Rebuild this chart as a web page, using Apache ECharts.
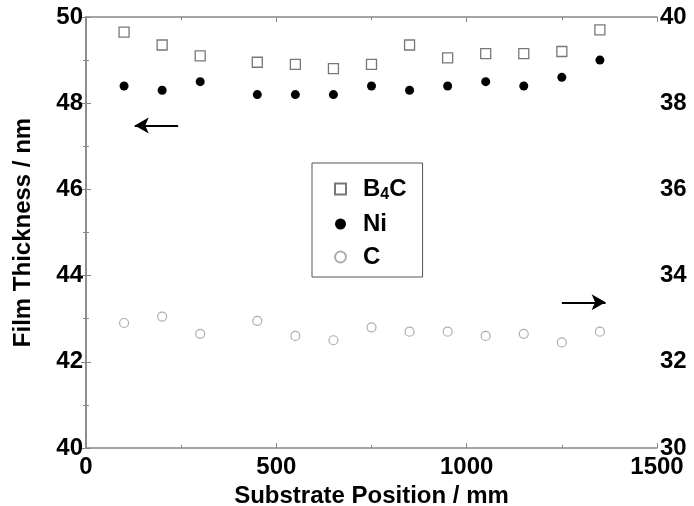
<!DOCTYPE html>
<html>
<head>
<meta charset="utf-8">
<script src="https://cdn.jsdelivr.net/npm/echarts@6/dist/echarts.min.js"></script>
<style>
  html, body { margin: 0; padding: 0; background: #fff; }
  #chart { width: 694px; height: 506px; }
</style>
</head>
<body>
<div id="chart"></div>
<script>
// substrate positions (mm)
const positions = [100, 200, 300, 450, 550, 650, 750, 850, 950, 1050, 1150, 1250, 1350];
// film thickness, left axis (nm)
const b4c = [49.65, 49.35, 49.1, 48.95, 48.9, 48.8, 48.9, 49.35, 49.05, 49.15, 49.15, 49.2, 49.7];
const ni = [48.4, 48.3, 48.5, 48.2, 48.2, 48.2, 48.4, 48.3, 48.4, 48.5, 48.4, 48.6, 49.0];
// C thickness, right axis (nm)
const carbon = [32.9, 33.05, 32.65, 32.95, 32.6, 32.5, 32.8, 32.7, 32.7, 32.6, 32.65, 32.45, 32.7];

const font = "'Liberation Sans', Arial, sans-serif";
const axisGray = "#888";

const pairs = (ys) => positions.map((x, i) => [x, ys[i]]);

const myChart = echarts.init(document.getElementById("chart"));

const labelStyle = { fontFamily: font, fontSize: 24, fontWeight: "bold", color: "#000" };

const options = {
  animation: false,
  grid: { left: 86, right: 37, top: 17, bottom: 58, outerBoundsMode: "none" },
  legend: {
    orient: "vertical",
    left: 312,
    top: 163,
    padding: [14, 16, 8, 22],
    itemGap: 9,
    itemWidth: 11,
    itemHeight: 11,
    borderColor: "#555",
    borderWidth: 1,
    data: ["B4C", "Ni", "C"],
    formatter: (name) => (name === "B4C" ? "B{sub|4}C" : name),
    textStyle: {
      fontFamily: font,
      fontSize: 24,
      fontWeight: "bold",
      color: "#000",
      padding: [0, 0, 0, 12],
      rich: {
        sub: {
          fontFamily: font,
          fontSize: 16,
          fontWeight: "bold",
          color: "#000",
          padding: [12, 0, 0, 0],
        },
      },
    },
  },
  xAxis: [
    {
      type: "value",
      min: 0,
      max: 1500,
      interval: 500,
      name: "Substrate Position / mm",
      nameLocation: "middle",
      nameGap: 29,
      nameTextStyle: labelStyle,
      axisLine: { lineStyle: { color: axisGray, width: 1.5 } },
      axisTick: { inside: true, length: 5, lineStyle: { color: axisGray } },
      minorTick: { show: true, splitNumber: 2, length: 3, lineStyle: { color: axisGray } },
      axisLabel: { ...labelStyle, margin: 7, formatter: (v) => String(v) },
      splitLine: { show: false },
    },
    {
      type: "value",
      position: "top",
      min: 0,
      max: 1500,
      interval: 500,
      axisLine: { lineStyle: { color: axisGray, width: 1.5 } },
      axisTick: { inside: true, length: 5, lineStyle: { color: axisGray } },
      minorTick: { show: true, splitNumber: 2, length: 3, lineStyle: { color: axisGray } },
      axisLabel: { show: false },
      splitLine: { show: false },
    },
  ],
  yAxis: [
    {
      type: "value",
      min: 40,
      max: 50,
      interval: 2,
      name: "Film Thickness / nm",
      nameLocation: "middle",
      nameGap: 51,
      nameTextStyle: labelStyle,
      axisLine: { show: true, lineStyle: { color: axisGray, width: 1.5 } },
      axisTick: { inside: true, length: 5, lineStyle: { color: axisGray } },
      minorTick: { show: true, splitNumber: 2, length: 3, lineStyle: { color: axisGray } },
      axisLabel: { ...labelStyle, margin: 3 },
      splitLine: { show: false },
    },
    {
      type: "value",
      position: "right",
      min: 30,
      max: 40,
      interval: 2,
      axisLine: { show: true, lineStyle: { color: axisGray, width: 1.5 } },
      axisTick: { inside: true, length: 5, lineStyle: { color: axisGray } },
      minorTick: { show: true, splitNumber: 2, length: 3, lineStyle: { color: axisGray } },
      axisLabel: { ...labelStyle, margin: 3 },
      splitLine: { show: false },
    },
  ],
  series: [
    {
      name: "B4C",
      type: "scatter",
      xAxisIndex: 0,
      yAxisIndex: 0,
      symbol: "rect",
      symbolSize: 10,
      itemStyle: { color: "#fff", borderColor: "#555", borderWidth: 1.3 },
      data: pairs(b4c),
      // left-pointing arrow: these belong to the left axis
      markLine: {
        silent: true,
        symbol: ["none", "arrow"],
        symbolSize: [12, 14],
        label: { show: false },
        lineStyle: { color: "#000", width: 2, type: "solid" },
        data: [[{ coord: [242, 47.48] }, { coord: [128, 47.48] }]],
      },
    },
    {
      name: "Ni",
      type: "scatter",
      xAxisIndex: 0,
      yAxisIndex: 0,
      symbol: "circle",
      symbolSize: 9,
      itemStyle: { color: "#000", opacity: 1 },
      data: pairs(ni),
    },
    {
      name: "C",
      type: "scatter",
      xAxisIndex: 0,
      yAxisIndex: 1,
      symbol: "circle",
      symbolSize: 9,
      itemStyle: { color: "#fff", borderColor: "#999", borderWidth: 1.2 },
      data: pairs(carbon),
      // right-pointing arrow: C belongs to the right axis
      markLine: {
        silent: true,
        symbol: ["none", "arrow"],
        symbolSize: [12, 14],
        label: { show: false },
        lineStyle: { color: "#000", width: 2, type: "solid" },
        data: [[{ coord: [1250, 33.38] }, { coord: [1365, 33.38] }]],
      },
    },
  ],
};

myChart.setOption(options);
</script>
</body>
</html>
